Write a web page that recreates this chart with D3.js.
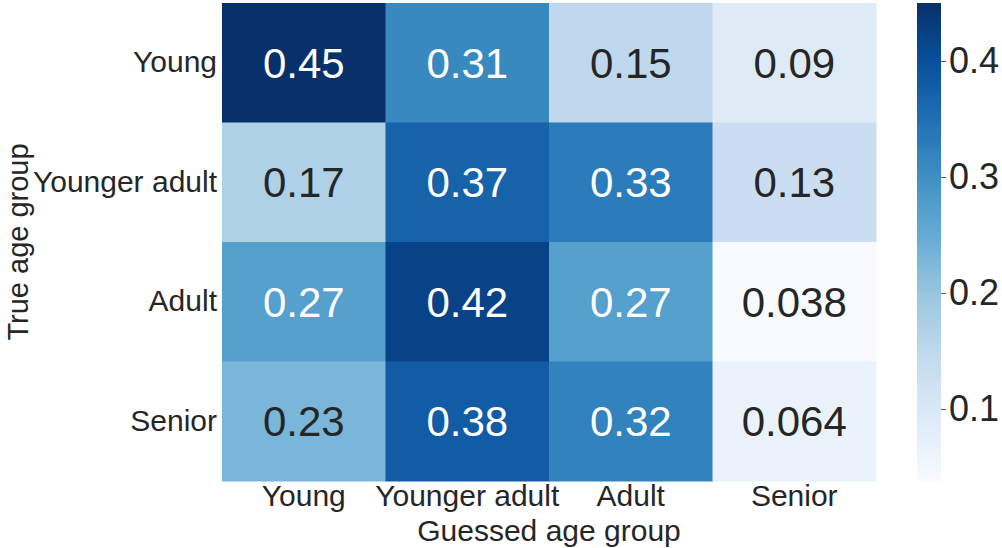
<!DOCTYPE html>
<html>
<head>
<meta charset="utf-8">
<script src="https://cdn.jsdelivr.net/npm/d3@7"></script>
<style>
  html, body { margin: 0; padding: 0; background: #ffffff; }
  svg { display: block; font-family: "Liberation Sans", Arial, sans-serif; }
</style>
</head>
<body>
<svg id="chart" width="1002" height="548"></svg>
<script>
// Confusion matrix: rows = true age group, columns = guessed age group
const trueGroups = ["Young", "Younger adult", "Adult", "Senior"];
const guessedGroups = ["Young", "Younger adult", "Adult", "Senior"];
const rowYoung = [0.45, 0.31, 0.15, 0.09];
const rowYoungerAdult = [0.17, 0.37, 0.33, 0.13];
const rowAdult = [0.27, 0.42, 0.27, 0.038];
const rowSenior = [0.23, 0.38, 0.32, 0.064];
const colorbarTicks = [0.1, 0.2, 0.3, 0.4];

// Blues colormap stops (ColorBrewer), interpolated linearly
const bluesStops = ["#f7fbff", "#deebf7", "#c6dbef", "#9ecae1", "#6baed6",
                    "#4292c6", "#2171b5", "#08519c", "#08306b"];

const matrix = [rowYoung, rowYoungerAdult, rowAdult, rowSenior];
const cells = [];
matrix.forEach((row, i) => row.forEach((v, j) => cells.push({ r: trueGroups[i], c: guessedGroups[j], v })));

const allVals = cells.map(d => d.v);
const vmin = d3.min(allVals), vmax = d3.max(allVals);

const svg = d3.select("#chart");
const textColor = "#262626";
const labelSize = 30;

const plot = { left: 222, right: 876, top: 3, bottom: 481 };
const x = d3.scaleBand().domain(guessedGroups).range([plot.left, plot.right]);
const y = d3.scaleBand().domain(trueGroups).range([plot.top, plot.bottom]);

const norm = d3.scaleLinear().domain([vmin, vmax]).range([0, 1]).clamp(true);
const blues = d3.scaleLinear()
  .domain(d3.range(bluesStops.length).map(i => i / (bluesStops.length - 1)))
  .range(bluesStops)
  .interpolate(d3.interpolateRgb);
const color = v => blues(norm(v));

// Cells
svg.append("g").selectAll("rect")
  .data(cells)
  .join("rect")
  .attr("x", d => x(d.c))
  .attr("y", d => y(d.r))
  .attr("width", x.bandwidth() + 0.5)
  .attr("height", y.bandwidth() + 0.5)
  .attr("fill", d => color(d.v));

// Annotation text colour picked by cell luminance
function luminance(c) {
  const rgb = d3.rgb(c);
  const lin = [rgb.r, rgb.g, rgb.b].map(u => {
    u /= 255;
    return u <= 0.03928 ? u / 12.92 : Math.pow((u + 0.055) / 1.055, 2.4);
  });
  return 0.2126 * lin[0] + 0.7152 * lin[1] + 0.0722 * lin[2];
}
const fmt = d3.format(".2~g");

svg.append("g").selectAll("text")
  .data(cells)
  .join("text")
  .attr("x", d => x(d.c) + x.bandwidth() / 2)
  .attr("y", d => y(d.r) + y.bandwidth() / 2)
  .attr("text-anchor", "middle")
  .attr("dy", "0.36em")
  .attr("font-size", 42)
  .attr("fill", d => luminance(color(d.v)) > 0.408 ? textColor : "#ffffff")
  .text(d => fmt(d.v));

// Axes
const xAxis = svg.append("g")
  .attr("transform", `translate(0,${plot.bottom})`)
  .call(d3.axisBottom(x).tickSize(0).tickPadding(4));
const yAxis = svg.append("g")
  .attr("transform", `translate(${plot.left},0)`)
  .call(d3.axisLeft(y).tickSize(0).tickPadding(5));
[xAxis, yAxis].forEach(g => {
  g.select(".domain").remove();
  g.selectAll("text")
    .attr("font-family", "Liberation Sans, Arial, sans-serif")
    .attr("font-size", labelSize)
    .attr("fill", textColor);
});
xAxis.selectAll("text").attr("dy", "0.71em");

svg.append("text")
  .attr("x", (plot.left + plot.right) / 2)
  .attr("y", 541)
  .attr("text-anchor", "middle")
  .attr("font-size", labelSize)
  .attr("fill", textColor)
  .text("Guessed age group");

svg.append("text")
  .attr("transform", `translate(28,${(plot.top + plot.bottom) / 2}) rotate(-90)`)
  .attr("text-anchor", "middle")
  .attr("font-size", 29)
  .attr("fill", textColor)
  .text("True age group");

// Colorbar
const cb = { x: 917, w: 24, top: plot.top, bottom: plot.bottom };
const cbScale = d3.scaleLinear().domain([vmin, vmax]).range([cb.bottom, cb.top]);
const grad = svg.append("defs").append("linearGradient")
  .attr("id", "cbGrad")
  .attr("x1", 0).attr("y1", 1).attr("x2", 0).attr("y2", 0);
grad.selectAll("stop")
  .data(d3.range(0, 1.0001, 1 / 64))
  .join("stop")
  .attr("offset", t => t)
  .attr("stop-color", t => blues(t));
svg.append("rect")
  .attr("x", cb.x).attr("y", cb.top)
  .attr("width", cb.w).attr("height", cb.bottom - cb.top)
  .attr("fill", "url(#cbGrad)");

const cbAxis = svg.append("g")
  .attr("transform", `translate(${cb.x + cb.w},0)`)
  .call(d3.axisRight(cbScale).tickValues(colorbarTicks).tickFormat(d3.format(".1f")).tickSize(5).tickPadding(3));
cbAxis.select(".domain").remove();
cbAxis.selectAll("line").attr("stroke", "#555555").attr("stroke-width", 1);
cbAxis.selectAll("text")
  .attr("font-family", "Liberation Sans, Arial, sans-serif")
  .attr("font-size", 36)
  .attr("fill", textColor);
</script>
</body>
</html>
